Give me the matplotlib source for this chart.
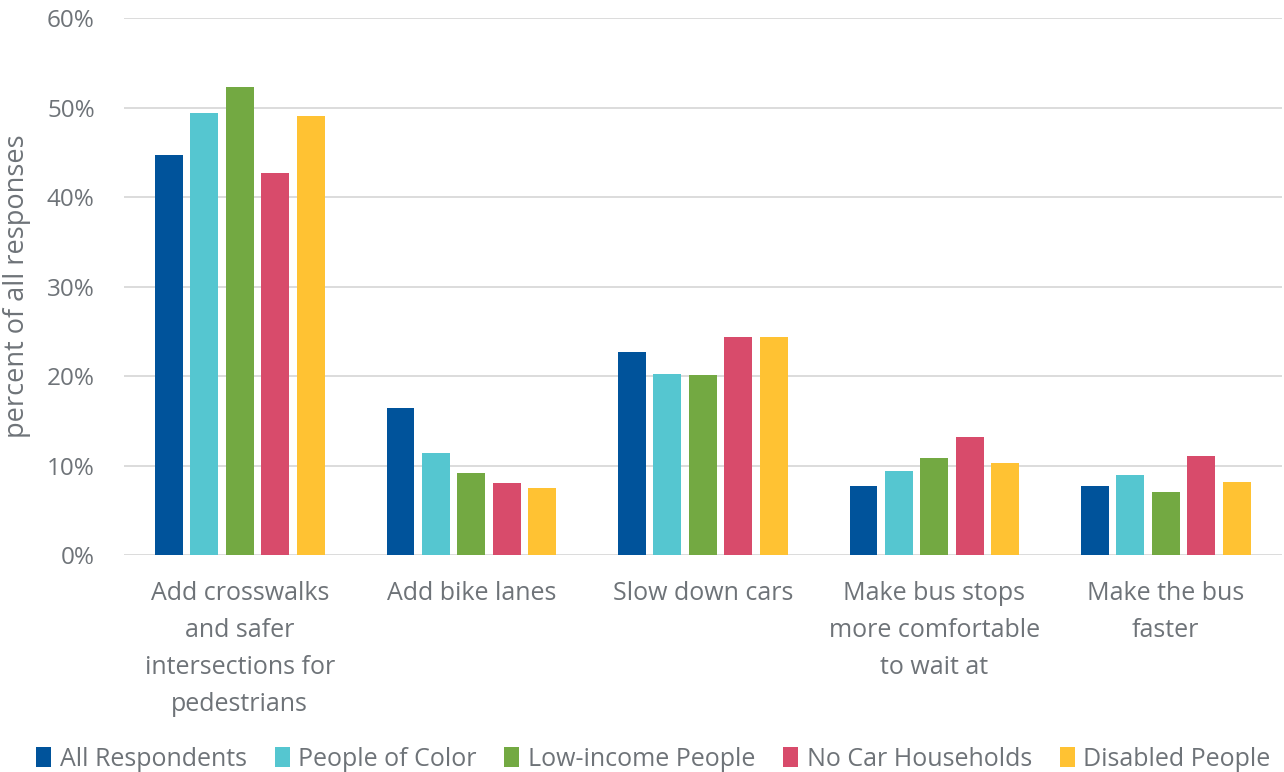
import matplotlib
matplotlib.use("Agg")
import matplotlib.pyplot as plt
import numpy as np
from matplotlib.ticker import FuncFormatter

categories = [
    "Add crosswalks\nand safer\nintersections for\npedestrians",
    "Add bike lanes",
    "Slow down cars",
    "Make bus stops\nmore comfortable\nto wait at",
    "Make the bus\nfaster",
]
series_names = ["All Respondents", "People of Color", "Low-income People",
                "No Car Households", "Disabled People"]
all_respondents = [44.7, 16.4, 22.7, 7.7, 7.7]
people_of_color = [49.4, 11.4, 20.2, 9.4, 8.9]
low_income = [52.3, 9.2, 20.1, 10.8, 7.0]
no_car = [42.7, 8.0, 24.4, 13.2, 11.1]
disabled = [49.1, 7.5, 24.4, 10.3, 8.2]
y_ticks = [0, 10, 20, 30, 40, 50, 60]

colors = ["#00539B", "#55C6D0", "#73A942", "#D84B6B", "#FFC233"]
text_color = "#6E7378"
plt.rcParams["font.family"] = ["Open Sans", "DejaVu Sans"]

fig = plt.figure(figsize=(12.84, 7.72), dpi=100)
ax = fig.add_axes([0.0966, 0.281, 0.9015, 0.6957])

series = [all_respondents, people_of_color, low_income, no_car, disabled]
x = np.arange(len(categories))
width = 0.12
step = 0.153
for i, (vals, name, c) in enumerate(zip(series, series_names, colors)):
    ax.bar(x + (i - 2) * step, vals, width, color=c, label=name, zorder=3)

ax.set_xlim(-0.5, len(categories) - 0.5)
ax.set_ylim(0, 60)
ax.set_yticks(y_ticks)
ax.yaxis.set_major_formatter(FuncFormatter(lambda v, p: f"{v:.0f}%"))
ax.grid(axis="y", color="#D9D9D9", linewidth=1.3, zorder=0)
for s in ax.spines.values():
    s.set_visible(False)
ax.tick_params(axis="both", length=0, colors=text_color, labelsize=17.5)
ax.tick_params(axis="y", pad=21)
ax.tick_params(axis="x", pad=19)
ax.set_xticks(x)
ax.set_xticklabels(categories, linespacing=1.62, fontsize=18, va="top")
ax.set_ylabel("percent of all responses", color=text_color, fontsize=19.5)
ax.yaxis.set_label_coords(-0.0805, 0.5)

leg = fig.legend(loc="lower center", bbox_to_anchor=(0.509, -0.016), ncol=5, frameon=False,
                 fontsize=18, handlelength=0.6, handleheight=0.85, handletextpad=0.35,
                 columnspacing=1.1, labelcolor=text_color, borderaxespad=0.1)

fig.savefig("out.png", dpi=100, facecolor="white")
